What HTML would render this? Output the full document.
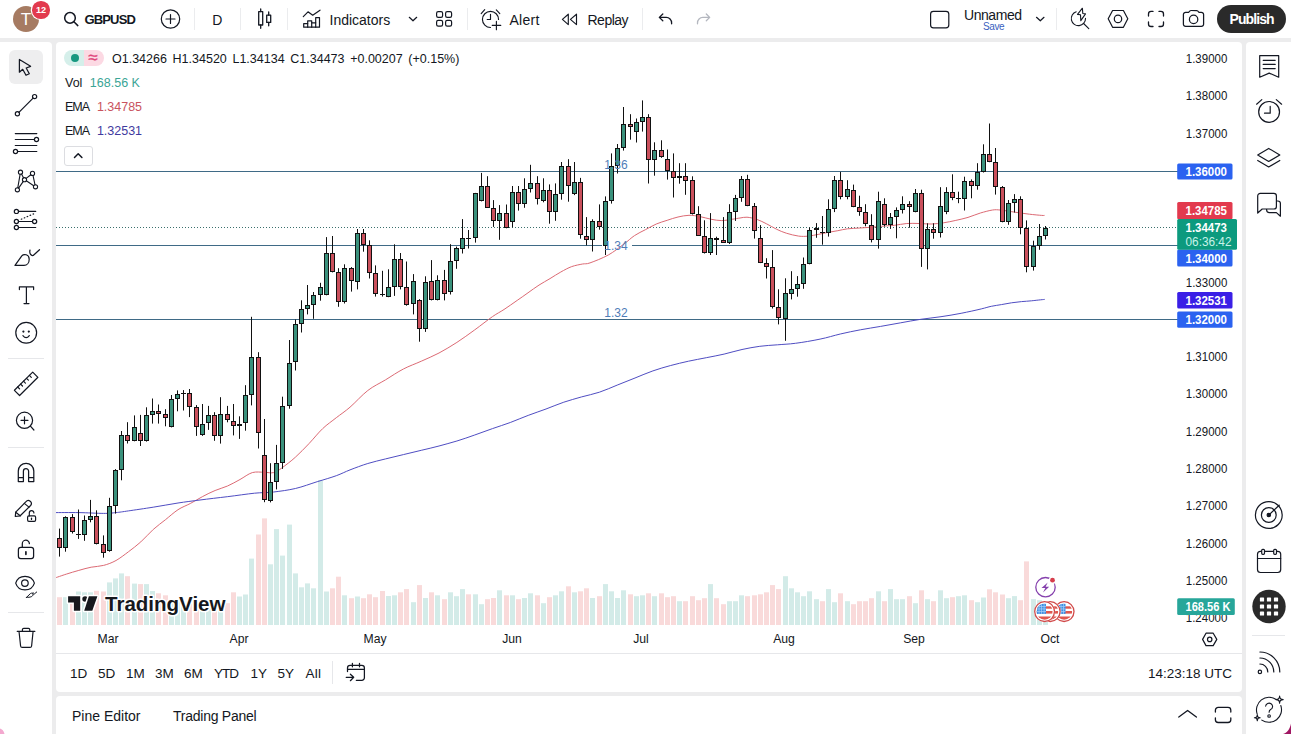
<!DOCTYPE html>
<html lang="en">
<head>
<meta charset="utf-8">
<title>GBPUSD chart</title>
<style>
*{box-sizing:border-box;margin:0;padding:0}
html,body{width:1291px;height:734px;overflow:hidden}
body{background:#ececed;font-family:"Liberation Sans",sans-serif;color:#131722;position:relative}
.panel{position:absolute;background:#fff}
#top{left:0;top:0;width:1291px;height:38px}
#left{left:0;top:42px;width:52px;height:692px;border-top-right-radius:4px}
#chart{left:56px;top:42px;width:1186px;height:650px;border-radius:4px}
#bottom{left:56px;top:696px;width:1186px;height:38px;border-radius:4px 4px 0 0}
#right{left:1246px;top:42px;width:45px;height:692px;border-top-left-radius:4px}
.t{position:absolute;white-space:nowrap;line-height:1}
#ov{position:absolute;left:0;top:0;width:1291px;height:734px;pointer-events:none}
svg text{font-family:"Liberation Sans",sans-serif}
.ic{fill:none;stroke:#131722;stroke-width:1.2;stroke-linecap:round;stroke-linejoin:round}
</style>
</head>
<body>
<div class="panel" id="top"></div>
<div class="panel" id="left"></div>
<div class="panel" id="chart"></div>
<div class="panel" id="bottom"></div>
<div class="panel" id="right"></div>
<!-- top toolbar -->
<div class="t" style="left:13px;top:6px;width:26px;height:26px;border-radius:50%;background:#a67b62;color:#fff;font-size:17px;text-align:center;line-height:27.4px">T</div>
<div class="t" style="left:32.3px;top:1.4px;width:17.4px;height:17.4px;border-radius:50%;box-shadow:0 0 0 1.2px #fff;background:#e23a4e;color:#fff;font-size:9.2px;font-weight:bold;text-align:center;line-height:18.6px;letter-spacing:-0.1px">12</div>
<div class="t" id="sym" style="left:84.5px;top:12.5px;font-size:13px;font-weight:bold;letter-spacing:-0.85px">GBPUSD</div>
<div class="t" id="tfD" style="left:212.3px;top:12.5px;font-size:14px">D</div>
<div class="t" id="ind" style="left:329.5px;top:12.5px;font-size:14px">Indicators</div>
<div class="t" id="alert" style="left:509.4px;top:12.5px;font-size:14px;letter-spacing:0.3px">Alert</div>
<div class="t" id="replay" style="left:587.5px;top:12.5px;font-size:14px;letter-spacing:-0.5px">Replay</div>
<div class="t" id="unnamed" style="left:964px;top:8px;font-size:14px;letter-spacing:-0.45px">Unnamed</div>
<div class="t" id="save" style="left:983px;top:22.3px;font-size:10px;letter-spacing:-0.4px;color:#3a5fc0">Save</div>
<div class="t" style="left:1217px;top:5px;width:69px;height:28px;border-radius:14px;background:#2a2a2a"></div>
<div class="t" id="publish" style="left:1229.5px;top:12px;font-size:14px;color:#fff;font-weight:bold;letter-spacing:-0.9px">Publish</div>
<!-- left toolbar selected -->
<div class="t" style="left:9px;top:50px;width:34px;height:34px;border-radius:6px;background:#eeeeef"></div>
<!-- legend -->
<div class="t" style="left:64px;top:49.5px;width:20px;height:16.5px;border-radius:8.25px 0 0 8.25px;background:#d5efea"></div>
<div class="t" style="left:84px;top:49.5px;width:19.5px;height:16.5px;border-radius:0 8.25px 8.25px 0;background:#fcd9e3"></div>
<div class="t" style="left:71.1px;top:53.7px;width:8px;height:8px;border-radius:50%;background:#169880"></div>
<div class="t" style="left:88.2px;top:49.1px;font-size:17px;color:#e0457b;-webkit-text-stroke:0.35px #e0457b">≈</div>
<div class="t" id="ohlc" style="left:112px;top:52.5px;font-size:12.5px;word-spacing:2.2px">O1.34266 H1.34520 L1.34134 C1.34473 +0.00207 (+0.15%)</div>
<div class="t" id="vol" style="left:65px;top:76.5px;font-size:12.5px">Vol <span style="color:#3aa596;margin-left:4px">168.56 K</span></div>
<div class="t" id="ema1" style="left:65px;top:100.5px;font-size:12.5px;letter-spacing:-1px">EMA <span style="color:#c9535e;margin-left:6px;letter-spacing:0">1.34785</span></div>
<div class="t" id="ema2" style="left:65px;top:124.5px;font-size:12.5px;letter-spacing:-1px">EMA <span style="color:#3f3a9e;margin-left:6px;letter-spacing:0">1.32531</span></div>
<div class="t" style="left:64px;top:145.5px;width:28.5px;height:20px;border:1px solid #dcdde1;border-radius:3px;background:#fff"></div>
<!-- bottom range bar -->
<div class="t" id="r1" style="left:70px;top:667px;font-size:13.5px">1D</div>
<div class="t" id="r2" style="left:98px;top:667px;font-size:13.5px">5D</div>
<div class="t" id="r3" style="left:126px;top:667px;font-size:13.5px">1M</div>
<div class="t" id="r4" style="left:155px;top:667px;font-size:13.5px">3M</div>
<div class="t" id="r5" style="left:184px;top:667px;font-size:13.5px">6M</div>
<div class="t" id="r6" style="left:214px;top:667px;font-size:13.5px;letter-spacing:-1px">YTD</div>
<div class="t" id="r7" style="left:250.5px;top:667px;font-size:13.5px">1Y</div>
<div class="t" id="r8" style="left:277.5px;top:667px;font-size:13.5px">5Y</div>
<div class="t" id="r9" style="left:305.5px;top:667px;font-size:13.5px;letter-spacing:0.3px">All</div>
<div class="t" id="clock" style="right:59px;top:667px;font-size:13.5px">14:23:18 UTC</div>
<div class="t" id="pine" style="left:72px;top:708.5px;font-size:14px">Pine Editor</div>
<div class="t" id="tpanel" style="left:173px;top:708.5px;font-size:14px;letter-spacing:-0.25px">Trading Panel</div>

<svg id="ov" width="1291" height="734" viewBox="0 0 1291 734">
<clipPath id="cc"><rect x="56" y="42" width="1186" height="611"/></clipPath><g clip-path="url(#cc)"><rect x="57" y="597.2" width="5" height="27.8" fill="#f9dada"/>
<rect x="63" y="597.2" width="5" height="27.8" fill="#d3ebe8"/>
<rect x="70" y="603.9" width="5" height="21.1" fill="#f9dada"/>
<rect x="76" y="591.5" width="5" height="33.5" fill="#d3ebe8"/>
<rect x="82" y="592.3" width="5" height="32.7" fill="#d3ebe8"/>
<rect x="88" y="592.3" width="5" height="32.7" fill="#d3ebe8"/>
<rect x="94" y="590.8" width="5" height="34.2" fill="#f9dada"/>
<rect x="101" y="591.5" width="5" height="33.5" fill="#f9dada"/>
<rect x="107" y="582.4" width="5" height="42.6" fill="#d3ebe8"/>
<rect x="113" y="578.4" width="5" height="46.6" fill="#d3ebe8"/>
<rect x="119" y="573.4" width="5" height="51.6" fill="#d3ebe8"/>
<rect x="125" y="576.2" width="5" height="48.8" fill="#f9dada"/>
<rect x="132" y="583.6" width="5" height="41.4" fill="#d3ebe8"/>
<rect x="138" y="584.1" width="5" height="40.9" fill="#f9dada"/>
<rect x="144" y="584.1" width="5" height="40.9" fill="#d3ebe8"/>
<rect x="150" y="591.0" width="5" height="34.0" fill="#d3ebe8"/>
<rect x="156" y="593.3" width="5" height="31.7" fill="#f9dada"/>
<rect x="163" y="595.3" width="5" height="29.7" fill="#f9dada"/>
<rect x="169" y="599.0" width="5" height="26.0" fill="#d3ebe8"/>
<rect x="175" y="601.5" width="5" height="23.5" fill="#d3ebe8"/>
<rect x="181" y="603.9" width="5" height="21.1" fill="#d3ebe8"/>
<rect x="187" y="603.9" width="5" height="21.1" fill="#f9dada"/>
<rect x="194" y="605.2" width="5" height="19.8" fill="#f9dada"/>
<rect x="200" y="603.9" width="5" height="21.1" fill="#d3ebe8"/>
<rect x="206" y="605.2" width="5" height="19.8" fill="#d3ebe8"/>
<rect x="212" y="606.4" width="5" height="18.6" fill="#f9dada"/>
<rect x="218" y="603.9" width="5" height="21.1" fill="#d3ebe8"/>
<rect x="225" y="603.2" width="5" height="21.8" fill="#f9dada"/>
<rect x="231" y="592.3" width="5" height="32.7" fill="#f9dada"/>
<rect x="237" y="596.5" width="5" height="28.5" fill="#d3ebe8"/>
<rect x="243" y="594.5" width="5" height="30.5" fill="#d3ebe8"/>
<rect x="249" y="558.6" width="5" height="66.4" fill="#d3ebe8"/>
<rect x="256" y="534.5" width="5" height="90.5" fill="#f9dada"/>
<rect x="262" y="518.4" width="5" height="106.6" fill="#f9dada"/>
<rect x="268" y="564.3" width="5" height="60.7" fill="#d3ebe8"/>
<rect x="274" y="529.1" width="5" height="95.9" fill="#d3ebe8"/>
<rect x="280" y="555.6" width="5" height="69.4" fill="#d3ebe8"/>
<rect x="287" y="524.6" width="5" height="100.4" fill="#d3ebe8"/>
<rect x="293" y="573.4" width="5" height="51.6" fill="#d3ebe8"/>
<rect x="299" y="587.3" width="5" height="37.7" fill="#d3ebe8"/>
<rect x="305" y="583.4" width="5" height="41.6" fill="#d3ebe8"/>
<rect x="311" y="588.3" width="5" height="36.7" fill="#d3ebe8"/>
<rect x="318" y="480.0" width="5" height="145.0" fill="#d3ebe8"/>
<rect x="324" y="591.5" width="5" height="33.5" fill="#d3ebe8"/>
<rect x="330" y="588.3" width="5" height="36.7" fill="#f9dada"/>
<rect x="336" y="576.7" width="5" height="48.3" fill="#f9dada"/>
<rect x="342" y="595.3" width="5" height="29.7" fill="#d3ebe8"/>
<rect x="349" y="598.2" width="5" height="26.8" fill="#f9dada"/>
<rect x="355" y="596.5" width="5" height="28.5" fill="#d3ebe8"/>
<rect x="361" y="598.2" width="5" height="26.8" fill="#f9dada"/>
<rect x="367" y="594.3" width="5" height="30.7" fill="#f9dada"/>
<rect x="373" y="597.2" width="5" height="27.8" fill="#f9dada"/>
<rect x="380" y="591.0" width="5" height="34.0" fill="#f9dada"/>
<rect x="386" y="596.0" width="5" height="29.0" fill="#d3ebe8"/>
<rect x="392" y="595.3" width="5" height="29.7" fill="#d3ebe8"/>
<rect x="398" y="592.3" width="5" height="32.7" fill="#f9dada"/>
<rect x="404" y="589.1" width="5" height="35.9" fill="#f9dada"/>
<rect x="411" y="602.2" width="5" height="22.8" fill="#d3ebe8"/>
<rect x="417" y="585.1" width="5" height="39.9" fill="#f9dada"/>
<rect x="423" y="598.0" width="5" height="27.0" fill="#d3ebe8"/>
<rect x="429" y="592.3" width="5" height="32.7" fill="#f9dada"/>
<rect x="435" y="595.3" width="5" height="29.7" fill="#d3ebe8"/>
<rect x="442" y="599.2" width="5" height="25.8" fill="#f9dada"/>
<rect x="448" y="592.3" width="5" height="32.7" fill="#d3ebe8"/>
<rect x="454" y="596.2" width="5" height="28.8" fill="#d3ebe8"/>
<rect x="460" y="589.1" width="5" height="35.9" fill="#d3ebe8"/>
<rect x="466" y="594.3" width="5" height="30.7" fill="#f9dada"/>
<rect x="473" y="594.3" width="5" height="30.7" fill="#d3ebe8"/>
<rect x="479" y="604.2" width="5" height="20.8" fill="#d3ebe8"/>
<rect x="485" y="599.2" width="5" height="25.8" fill="#f9dada"/>
<rect x="491" y="598.0" width="5" height="27.0" fill="#f9dada"/>
<rect x="497" y="590.3" width="5" height="34.7" fill="#d3ebe8"/>
<rect x="504" y="595.3" width="5" height="29.7" fill="#f9dada"/>
<rect x="510" y="595.3" width="5" height="29.7" fill="#d3ebe8"/>
<rect x="516" y="599.2" width="5" height="25.8" fill="#f9dada"/>
<rect x="522" y="598.0" width="5" height="27.0" fill="#d3ebe8"/>
<rect x="528" y="593.3" width="5" height="31.7" fill="#d3ebe8"/>
<rect x="535" y="595.3" width="5" height="29.7" fill="#f9dada"/>
<rect x="541" y="603.2" width="5" height="21.8" fill="#d3ebe8"/>
<rect x="547" y="597.2" width="5" height="27.8" fill="#f9dada"/>
<rect x="553" y="595.3" width="5" height="29.7" fill="#d3ebe8"/>
<rect x="559" y="591.3" width="5" height="33.7" fill="#d3ebe8"/>
<rect x="566" y="586.3" width="5" height="38.7" fill="#f9dada"/>
<rect x="572" y="592.3" width="5" height="32.7" fill="#d3ebe8"/>
<rect x="578" y="591.3" width="5" height="33.7" fill="#f9dada"/>
<rect x="584" y="588.3" width="5" height="36.7" fill="#f9dada"/>
<rect x="590" y="598.0" width="5" height="27.0" fill="#d3ebe8"/>
<rect x="597" y="596.2" width="5" height="28.8" fill="#f9dada"/>
<rect x="603" y="584.1" width="5" height="40.9" fill="#d3ebe8"/>
<rect x="609" y="591.3" width="5" height="33.7" fill="#d3ebe8"/>
<rect x="615" y="598.0" width="5" height="27.0" fill="#d3ebe8"/>
<rect x="621" y="590.3" width="5" height="34.7" fill="#d3ebe8"/>
<rect x="628" y="594.3" width="5" height="30.7" fill="#f9dada"/>
<rect x="634" y="596.2" width="5" height="28.8" fill="#d3ebe8"/>
<rect x="640" y="595.3" width="5" height="29.7" fill="#d3ebe8"/>
<rect x="646" y="593.3" width="5" height="31.7" fill="#f9dada"/>
<rect x="652" y="596.2" width="5" height="28.8" fill="#d3ebe8"/>
<rect x="659" y="593.3" width="5" height="31.7" fill="#f9dada"/>
<rect x="665" y="597.2" width="5" height="27.8" fill="#f9dada"/>
<rect x="671" y="596.2" width="5" height="28.8" fill="#f9dada"/>
<rect x="677" y="601.2" width="5" height="23.8" fill="#d3ebe8"/>
<rect x="683" y="601.2" width="5" height="23.8" fill="#f9dada"/>
<rect x="690" y="596.2" width="5" height="28.8" fill="#f9dada"/>
<rect x="696" y="600.2" width="5" height="24.8" fill="#f9dada"/>
<rect x="702" y="598.2" width="5" height="26.8" fill="#f9dada"/>
<rect x="708" y="584.1" width="5" height="40.9" fill="#d3ebe8"/>
<rect x="714" y="598.2" width="5" height="26.8" fill="#f9dada"/>
<rect x="721" y="604.2" width="5" height="20.8" fill="#f9dada"/>
<rect x="727" y="601.2" width="5" height="23.8" fill="#d3ebe8"/>
<rect x="733" y="601.2" width="5" height="23.8" fill="#d3ebe8"/>
<rect x="739" y="595.3" width="5" height="29.7" fill="#d3ebe8"/>
<rect x="745" y="596.2" width="5" height="28.8" fill="#f9dada"/>
<rect x="752" y="595.3" width="5" height="29.7" fill="#f9dada"/>
<rect x="758" y="594.3" width="5" height="30.7" fill="#f9dada"/>
<rect x="764" y="592.3" width="5" height="32.7" fill="#f9dada"/>
<rect x="770" y="585.1" width="5" height="39.9" fill="#f9dada"/>
<rect x="776" y="589.1" width="5" height="35.9" fill="#f9dada"/>
<rect x="783" y="576.2" width="5" height="48.8" fill="#d3ebe8"/>
<rect x="789" y="588.3" width="5" height="36.7" fill="#d3ebe8"/>
<rect x="795" y="592.3" width="5" height="32.7" fill="#d3ebe8"/>
<rect x="801" y="596.2" width="5" height="28.8" fill="#d3ebe8"/>
<rect x="807" y="591.3" width="5" height="33.7" fill="#d3ebe8"/>
<rect x="814" y="599.2" width="5" height="25.8" fill="#d3ebe8"/>
<rect x="820" y="601.2" width="5" height="23.8" fill="#f9dada"/>
<rect x="826" y="589.1" width="5" height="35.9" fill="#d3ebe8"/>
<rect x="832" y="602.2" width="5" height="22.8" fill="#d3ebe8"/>
<rect x="838" y="593.3" width="5" height="31.7" fill="#f9dada"/>
<rect x="845" y="601.2" width="5" height="23.8" fill="#d3ebe8"/>
<rect x="851" y="604.2" width="5" height="20.8" fill="#f9dada"/>
<rect x="857" y="601.2" width="5" height="23.8" fill="#f9dada"/>
<rect x="863" y="601.2" width="5" height="23.8" fill="#f9dada"/>
<rect x="869" y="598.2" width="5" height="26.8" fill="#f9dada"/>
<rect x="876" y="591.3" width="5" height="33.7" fill="#d3ebe8"/>
<rect x="882" y="601.2" width="5" height="23.8" fill="#f9dada"/>
<rect x="888" y="589.1" width="5" height="35.9" fill="#d3ebe8"/>
<rect x="894" y="599.2" width="5" height="25.8" fill="#d3ebe8"/>
<rect x="900" y="599.2" width="5" height="25.8" fill="#d3ebe8"/>
<rect x="907" y="596.2" width="5" height="28.8" fill="#f9dada"/>
<rect x="913" y="603.2" width="5" height="21.8" fill="#d3ebe8"/>
<rect x="919" y="590.3" width="5" height="34.7" fill="#f9dada"/>
<rect x="925" y="599.2" width="5" height="25.8" fill="#d3ebe8"/>
<rect x="931" y="601.2" width="5" height="23.8" fill="#f9dada"/>
<rect x="938" y="590.3" width="5" height="34.7" fill="#d3ebe8"/>
<rect x="944" y="598.2" width="5" height="26.8" fill="#d3ebe8"/>
<rect x="950" y="597.2" width="5" height="27.8" fill="#f9dada"/>
<rect x="956" y="596.2" width="5" height="28.8" fill="#d3ebe8"/>
<rect x="962" y="595.3" width="5" height="29.7" fill="#d3ebe8"/>
<rect x="969" y="600.2" width="5" height="24.8" fill="#f9dada"/>
<rect x="975" y="602.2" width="5" height="22.8" fill="#d3ebe8"/>
<rect x="981" y="597.5" width="5" height="27.5" fill="#d3ebe8"/>
<rect x="987" y="589.3" width="5" height="35.7" fill="#f9dada"/>
<rect x="993" y="592.3" width="5" height="32.7" fill="#f9dada"/>
<rect x="1000" y="594.5" width="5" height="30.5" fill="#f9dada"/>
<rect x="1006" y="598.2" width="5" height="26.8" fill="#d3ebe8"/>
<rect x="1012" y="596.1" width="5" height="28.9" fill="#d3ebe8"/>
<rect x="1018" y="600.2" width="5" height="24.8" fill="#f9dada"/>
<rect x="1024" y="561.4" width="5" height="63.6" fill="#f9dada"/>
<rect x="1031" y="599.1" width="5" height="25.9" fill="#d3ebe8"/>
<rect x="1037" y="600.2" width="5" height="24.8" fill="#d3ebe8"/>
<rect x="1043" y="602.2" width="5" height="22.8" fill="#d3ebe8"/>
<path d="M56,171.5H1178M56,245.5H602M632,245.5H1178M56,319.5H1178" stroke="#3f6a86" stroke-width="1" fill="none"/>
<path d="M56,227.5H1178" stroke="#3a6f6c" stroke-width="1" stroke-dasharray="1 2" fill="none"/>
<path d="M54.0,578.3C56.1,577.6 62.3,575.4 66.4,574.1C70.5,572.8 74.7,571.5 78.8,570.4C82.9,569.2 87.1,568.0 91.2,567.2C95.3,566.4 99.5,566.5 103.6,565.4C107.7,564.3 111.9,562.8 116.0,560.5C120.1,558.2 124.3,554.9 128.4,551.8C132.5,548.7 136.7,545.6 140.8,541.9C144.9,538.2 149.1,533.2 153.2,529.5C157.3,525.8 161.5,522.9 165.6,519.6C169.7,516.3 173.9,512.4 178.0,509.7C182.1,507.0 186.2,505.7 190.3,503.5C194.4,501.3 198.6,498.7 202.7,496.5C206.8,494.3 211.0,492.2 215.1,490.5C219.2,488.8 223.3,487.8 227.5,486.0C231.7,484.2 235.9,481.7 240.0,479.5C244.1,477.3 248.2,473.8 252.3,472.6C256.4,471.4 260.8,472.3 264.3,472.3C267.9,472.3 270.7,473.3 273.6,472.6C276.5,471.9 278.2,470.6 281.8,468.0C285.4,465.4 290.9,461.3 295.4,457.2C299.9,453.1 304.4,448.4 309.0,443.6C313.6,438.8 318.1,432.9 322.7,428.6C327.2,424.3 331.8,421.3 336.3,417.7C340.9,414.1 344.8,411.7 350.0,407.2C355.2,402.7 361.9,395.1 367.8,390.5C373.7,385.9 379.7,383.4 385.6,379.8C391.5,376.2 397.4,372.1 403.4,369.0C409.3,365.9 415.4,363.9 421.3,361.2C427.2,358.5 433.1,356.1 439.0,353.0C444.9,349.9 450.9,346.2 456.9,342.4C462.8,338.5 468.8,334.2 474.7,329.9C480.6,325.6 487.6,320.0 492.5,316.6C497.4,313.2 499.9,312.2 504.0,309.5C508.1,306.8 513.2,303.2 517.2,300.4C521.2,297.6 524.4,295.4 528.0,292.8C531.6,290.2 535.3,287.5 539.0,285.1C542.7,282.7 546.4,280.8 550.0,278.6C553.6,276.4 557.2,274.0 560.8,272.0C564.4,270.0 568.1,267.9 571.7,266.6C575.3,265.3 579.6,264.6 582.6,264.0C585.6,263.4 585.7,264.4 590.0,262.9C594.3,261.4 602.7,258.1 608.3,255.0C613.9,251.9 619.2,247.5 623.6,244.3C628.0,241.1 630.9,238.0 634.5,235.6C638.1,233.2 641.8,231.6 645.4,229.7C649.0,227.8 652.7,225.6 656.3,224.0C659.9,222.4 663.6,221.5 667.2,220.3C670.8,219.1 674.4,217.8 678.0,217.0C681.6,216.2 685.3,215.4 689.0,215.3C692.7,215.2 696.4,215.9 700.0,216.6C703.6,217.2 707.2,218.5 710.8,219.2C714.4,219.9 718.1,220.6 721.7,220.6C725.3,220.6 729.6,219.6 732.6,219.2C735.6,218.8 737.6,218.3 740.0,218.0C742.4,217.7 744.2,217.0 747.0,217.2C749.8,217.4 753.6,218.3 756.9,219.4C760.2,220.5 763.4,222.3 766.7,223.9C770.0,225.5 773.2,227.6 776.5,229.2C779.8,230.8 782.6,232.0 786.3,233.2C790.0,234.3 794.9,235.6 798.6,236.1C802.3,236.6 805.1,236.4 808.4,236.1C811.7,235.8 814.9,235.0 818.2,234.4C821.5,233.8 824.7,233.0 828.0,232.4C831.3,231.8 834.5,231.3 837.8,230.7C841.1,230.1 843.9,229.2 847.6,228.8C851.3,228.4 855.8,228.3 859.9,228.0C864.0,227.7 867.9,227.5 872.0,227.2C876.1,226.9 881.0,226.3 884.7,226.0C888.5,225.7 890.8,225.7 894.5,225.3C898.2,224.9 902.7,223.8 906.8,223.5C910.9,223.2 914.9,223.4 919.0,223.5C923.1,223.6 927.2,224.1 931.3,224.0C935.4,223.9 939.5,223.4 943.6,222.8C947.7,222.2 951.7,221.3 955.8,220.4C959.9,219.5 963.9,218.6 968.0,217.4C972.1,216.2 976.3,214.2 980.4,213.0C984.5,211.8 989.3,210.5 992.6,210.0C995.9,209.5 997.5,209.8 1000.0,210.0C1002.5,210.2 1004.5,210.6 1007.3,211.0C1010.1,211.4 1013.3,212.0 1017.0,212.5C1020.7,213.0 1025.3,213.7 1029.4,214.2C1033.5,214.7 1039.2,215.2 1041.7,215.4C1044.2,215.6 1044.1,215.4 1044.6,215.4" stroke="#dc6a74" stroke-width="1" fill="none" stroke-linejoin="round"/>
<path d="M54.0,512.6C58.1,512.6 70.5,512.5 78.8,512.6C87.1,512.7 97.4,513.4 103.6,513.4C109.8,513.4 111.9,513.0 116.0,512.6C120.1,512.2 122.2,511.8 128.4,510.9C134.6,510.0 144.9,508.5 153.2,507.2C161.5,505.9 170.2,504.2 178.0,503.0C185.8,501.8 191.8,501.1 200.0,500.0C208.2,498.9 218.2,497.8 227.3,496.7C236.4,495.6 246.8,494.0 254.5,493.2C262.2,492.4 266.8,492.8 273.6,492.0C280.4,491.2 288.1,490.2 295.4,488.5C302.7,486.8 310.4,483.8 317.2,481.7C324.0,479.6 330.8,477.7 336.3,475.7C341.8,473.7 344.8,471.9 350.0,469.9C355.2,467.9 361.9,465.3 367.8,463.5C373.7,461.7 379.7,460.4 385.6,458.9C391.5,457.4 397.4,456.0 403.4,454.6C409.3,453.2 415.4,451.7 421.3,450.3C427.2,448.9 433.1,447.6 439.0,446.0C444.9,444.4 450.9,442.8 456.9,441.0C462.8,439.2 468.8,437.1 474.7,435.0C480.6,432.9 486.6,430.7 492.5,428.6C498.4,426.5 504.4,424.7 510.3,422.5C516.2,420.3 522.2,417.6 528.2,415.4C534.2,413.1 540.1,411.2 546.0,409.0C551.9,406.8 557.9,404.2 563.8,402.2C569.7,400.2 575.7,398.6 581.6,396.9C587.5,395.2 593.5,394.2 599.4,392.2C605.3,390.2 611.3,387.5 617.2,385.1C623.1,382.7 629.0,380.4 635.0,378.0C641.0,375.6 646.9,373.0 652.9,370.9C658.9,368.8 664.8,367.1 670.7,365.5C676.6,363.9 682.6,362.5 688.5,361.2C694.4,359.9 700.4,358.9 706.3,357.7C712.2,356.5 718.1,355.5 724.1,354.1C730.1,352.7 736.0,350.8 742.0,349.5C748.0,348.2 753.9,347.1 759.8,346.3C765.7,345.5 771.7,345.3 777.6,344.8C783.5,344.3 788.3,344.2 795.4,343.3C802.5,342.4 812.6,340.7 820.1,339.1C827.6,337.6 833.6,335.6 840.3,334.0C847.0,332.4 853.7,331.1 860.4,329.8C867.1,328.5 873.9,327.6 880.6,326.4C887.3,325.2 894.0,324.0 900.7,322.8C907.4,321.6 914.1,320.3 920.8,319.3C927.5,318.3 934.3,317.7 941.0,316.7C947.7,315.7 954.4,314.6 961.1,313.3C967.8,312.0 976.3,310.1 981.3,308.9C986.3,307.7 987.9,307.0 991.3,306.3C994.6,305.6 998.0,305.2 1001.4,304.6C1004.8,304.0 1008.1,303.3 1011.5,302.8C1014.9,302.3 1018.2,301.9 1021.6,301.6C1025.0,301.3 1027.8,301.2 1031.6,300.8C1035.4,300.4 1042.5,299.6 1044.7,299.4" stroke="#4f4dc2" stroke-width="1" fill="none" stroke-linejoin="round"/>
<path d="M59.5,528.6V556.6M65.5,516.3V551.7M72.5,514.1V533.5M78.5,509.5V538.9M84.5,515.5V540.8M90.5,499.9V522.3M96.5,510.3V544.4M103.5,535.4V557.7M109.5,497.8V551.7M115.5,469.1V513.6M121.5,431.0V480.3M127.5,422.2V443.5M134.5,415.4V441.3M140.5,414.9V446.0M146.5,407.3V441.6M152.5,398.5V423.6M158.5,404.5V423.6M165.5,409.2V426.3M171.5,395.0V427.4M177.5,390.4V411.3M183.5,390.1V410.5M189.5,389.0V417.1M196.5,405.1V435.9M202.5,404.0V435.9M208.5,405.9V429.9M214.5,412.2V440.8M220.5,397.2V443.6M227.5,405.9V422.3M233.5,404.0V435.4M239.5,416.3V438.9M245.5,385.2V430.7M251.5,316.8V405.4M258.5,352.2V448.5M264.5,419.0V502.2M270.5,463.2V502.4M276.5,444.9V489.4M282.5,396.7V468.9M289.5,340.0V408.7M295.5,319.5V370.5M301.5,300.3V332.5M307.5,285.0V314.4M313.5,292.0V318.8M320.5,282.8V300.7M326.5,237.1V295.3M332.5,236.0V272.4M338.5,268.2V306.8M344.5,264.3V303.5M351.5,267.1V291.6M357.5,229.0V289.4M363.5,229.0V251.7M369.5,240.3V278.5M375.5,265.4V296.6M382.5,270.8V296.6M388.5,269.3V297.2M394.5,244.3V295.9M400.5,253.0V289.4M406.5,261.5V305.7M413.5,274.1V314.4M419.5,299.2V341.7M425.5,276.3V331.9M431.5,260.1V300.4M437.5,275.3V300.4M444.5,269.9V300.4M450.5,244.2V294.5M456.5,246.6V268.8M462.5,219.1V253.5M468.5,230.0V248.5M475.5,192.9V242.6M481.5,172.9V201.4M487.5,176.2V207.5M493.5,200.1V226.9M499.5,205.1V239.8M506.5,204.5V228.3M512.5,186.0V227.4M518.5,186.0V210.6M524.5,178.3V207.8M530.5,164.8V192.5M537.5,176.2V204.5M543.5,178.3V202.3M549.5,184.4V223.7M555.5,183.4V220.8M561.5,162.0V199.7M568.5,159.2V201.7M574.5,162.0V195.1M580.5,177.9V238.7M586.5,217.1V245.4M592.5,219.3V251.5M599.5,204.4V229.7M605.5,196.4V255.0M611.5,153.4V203.6M617.5,144.0V173.5M623.5,107.0V150.6M630.5,114.2V139.7M636.5,118.5V142.5M642.5,100.4V131.6M648.5,114.2V183.5M654.5,142.3V175.7M661.5,140.3V157.8M667.5,149.5V179.6M673.5,153.4V197.5M679.5,163.2V183.7M685.5,163.2V194.8M692.5,176.3V214.5M698.5,206.2V235.6M704.5,220.3V253.5M710.5,213.1V255.0M716.5,236.7V255.0M723.5,217.1V242.6M729.5,204.2V244.0M735.5,194.9V220.9M741.5,176.0V201.8M747.5,174.8V206.2M754.5,203.0V238.6M760.5,225.1V263.1M766.5,258.2V278.5M772.5,250.1V308.5M778.5,289.3V324.4M785.5,278.3V340.8M791.5,271.2V299.4M797.5,276.1V296.7M803.5,257.5V288.8M809.5,227.5V264.3M816.5,223.1V237.8M822.5,216.0V244.7M828.5,199.3V236.6M834.5,176.0V212.1M840.5,171.9V199.3M847.5,180.2V199.3M853.5,184.6V207.2M859.5,195.7V215.8M865.5,204.2V226.3M871.5,214.2V242.4M878.5,191.7V248.6M884.5,198.3V226.5M890.5,213.0V228.9M896.5,207.4V238.3M902.5,196.3V213.5M909.5,201.2V227.7M915.5,189.0V212.3M921.5,189.7V266.9M927.5,223.3V269.4M933.5,223.3V238.7M940.5,187.2V237.5M946.5,187.2V214.2M952.5,174.3V200.2M958.5,191.7V203.2M964.5,176.7V210.5M971.5,179.4V198.3M977.5,163.2V189.7M983.5,144.3V172.5M989.5,123.5V162.2M995.5,148.0V194.6M1002.5,186.0V222.3M1008.5,200.0V224.8M1014.5,194.1V212.5M1020.5,196.3V234.3M1026.5,220.4V272.3M1033.5,240.7V270.6M1039.5,224.0V249.8M1045.5,226.0V239.5" stroke="#111" stroke-width="1" fill="none"/>
<rect x="57.5" y="538.5" width="4" height="9" fill="#ca505c" stroke="#111" stroke-width="1"/>
<rect x="63.5" y="517.5" width="4" height="30" fill="#3a917c" stroke="#111" stroke-width="1"/>
<rect x="70.5" y="517.5" width="4" height="14" fill="#ca505c" stroke="#111" stroke-width="1"/>
<rect x="76" y="534" width="5" height="1" fill="#111"/>
<rect x="82.5" y="520.5" width="4" height="14" fill="#3a917c" stroke="#111" stroke-width="1"/>
<rect x="88.5" y="516.5" width="4" height="3" fill="#3a917c" stroke="#111" stroke-width="1"/>
<rect x="94.5" y="516.5" width="4" height="27" fill="#ca505c" stroke="#111" stroke-width="1"/>
<rect x="101.5" y="544.5" width="4" height="8" fill="#ca505c" stroke="#111" stroke-width="1"/>
<rect x="107.5" y="506.5" width="4" height="44" fill="#3a917c" stroke="#111" stroke-width="1"/>
<rect x="113.5" y="470.5" width="4" height="35" fill="#3a917c" stroke="#111" stroke-width="1"/>
<rect x="119.5" y="435.5" width="4" height="34" fill="#3a917c" stroke="#111" stroke-width="1"/>
<rect x="125.5" y="435.5" width="4" height="5" fill="#ca505c" stroke="#111" stroke-width="1"/>
<rect x="132.5" y="427.5" width="4" height="13" fill="#3a917c" stroke="#111" stroke-width="1"/>
<rect x="138.5" y="433.5" width="4" height="7" fill="#ca505c" stroke="#111" stroke-width="1"/>
<rect x="144.5" y="415.5" width="4" height="25" fill="#3a917c" stroke="#111" stroke-width="1"/>
<rect x="150.5" y="411.5" width="4" height="3" fill="#3a917c" stroke="#111" stroke-width="1"/>
<rect x="156.5" y="411.5" width="4" height="2" fill="#ca505c" stroke="#111" stroke-width="1"/>
<rect x="163.5" y="414.5" width="4" height="3" fill="#ca505c" stroke="#111" stroke-width="1"/>
<rect x="169.5" y="399.5" width="4" height="27" fill="#3a917c" stroke="#111" stroke-width="1"/>
<rect x="175.5" y="394.5" width="4" height="4" fill="#3a917c" stroke="#111" stroke-width="1"/>
<rect x="181" y="393" width="5" height="1" fill="#111"/>
<rect x="187.5" y="393.5" width="4" height="13" fill="#ca505c" stroke="#111" stroke-width="1"/>
<rect x="194.5" y="407.5" width="4" height="19" fill="#ca505c" stroke="#111" stroke-width="1"/>
<rect x="200.5" y="424.5" width="4" height="10" fill="#3a917c" stroke="#111" stroke-width="1"/>
<rect x="206.5" y="415.5" width="4" height="7" fill="#3a917c" stroke="#111" stroke-width="1"/>
<rect x="212.5" y="415.5" width="4" height="20" fill="#ca505c" stroke="#111" stroke-width="1"/>
<rect x="218.5" y="414.5" width="4" height="21" fill="#3a917c" stroke="#111" stroke-width="1"/>
<rect x="225.5" y="414.5" width="4" height="5" fill="#ca505c" stroke="#111" stroke-width="1"/>
<rect x="231.5" y="421.5" width="4" height="4" fill="#ca505c" stroke="#111" stroke-width="1"/>
<rect x="237" y="424" width="5" height="2" fill="#111"/>
<rect x="243.5" y="395.5" width="4" height="27" fill="#3a917c" stroke="#111" stroke-width="1"/>
<rect x="249.5" y="357.5" width="4" height="37" fill="#3a917c" stroke="#111" stroke-width="1"/>
<rect x="256.5" y="357.5" width="4" height="75" fill="#ca505c" stroke="#111" stroke-width="1"/>
<rect x="262.5" y="455.5" width="4" height="44" fill="#ca505c" stroke="#111" stroke-width="1"/>
<rect x="268.5" y="482.5" width="4" height="18" fill="#3a917c" stroke="#111" stroke-width="1"/>
<rect x="274.5" y="463.5" width="4" height="18" fill="#3a917c" stroke="#111" stroke-width="1"/>
<rect x="280.5" y="406.5" width="4" height="56" fill="#3a917c" stroke="#111" stroke-width="1"/>
<rect x="287.5" y="363.5" width="4" height="42" fill="#3a917c" stroke="#111" stroke-width="1"/>
<rect x="293.5" y="324.5" width="4" height="37" fill="#3a917c" stroke="#111" stroke-width="1"/>
<rect x="299.5" y="309.5" width="4" height="14" fill="#3a917c" stroke="#111" stroke-width="1"/>
<rect x="305.5" y="305.5" width="4" height="3" fill="#3a917c" stroke="#111" stroke-width="1"/>
<rect x="311.5" y="295.5" width="4" height="9" fill="#3a917c" stroke="#111" stroke-width="1"/>
<rect x="318.5" y="287.5" width="4" height="7" fill="#3a917c" stroke="#111" stroke-width="1"/>
<rect x="324.5" y="253.5" width="4" height="41" fill="#3a917c" stroke="#111" stroke-width="1"/>
<rect x="330.5" y="253.5" width="4" height="18" fill="#ca505c" stroke="#111" stroke-width="1"/>
<rect x="336.5" y="272.5" width="4" height="29" fill="#ca505c" stroke="#111" stroke-width="1"/>
<rect x="342.5" y="268.5" width="4" height="33" fill="#3a917c" stroke="#111" stroke-width="1"/>
<rect x="349.5" y="268.5" width="4" height="12" fill="#ca505c" stroke="#111" stroke-width="1"/>
<rect x="355.5" y="233.5" width="4" height="48" fill="#3a917c" stroke="#111" stroke-width="1"/>
<rect x="361.5" y="233.5" width="4" height="11" fill="#ca505c" stroke="#111" stroke-width="1"/>
<rect x="367.5" y="245.5" width="4" height="27" fill="#ca505c" stroke="#111" stroke-width="1"/>
<rect x="373.5" y="273.5" width="4" height="20" fill="#ca505c" stroke="#111" stroke-width="1"/>
<rect x="380" y="294" width="5" height="1" fill="#111"/>
<rect x="386.5" y="287.5" width="4" height="9" fill="#3a917c" stroke="#111" stroke-width="1"/>
<rect x="392.5" y="259.5" width="4" height="27" fill="#3a917c" stroke="#111" stroke-width="1"/>
<rect x="398.5" y="259.5" width="4" height="27" fill="#ca505c" stroke="#111" stroke-width="1"/>
<rect x="404.5" y="287.5" width="4" height="17" fill="#ca505c" stroke="#111" stroke-width="1"/>
<rect x="411.5" y="281.5" width="4" height="22" fill="#3a917c" stroke="#111" stroke-width="1"/>
<rect x="417.5" y="300.5" width="4" height="28" fill="#ca505c" stroke="#111" stroke-width="1"/>
<rect x="423.5" y="282.5" width="4" height="46" fill="#3a917c" stroke="#111" stroke-width="1"/>
<rect x="429.5" y="281.5" width="4" height="18" fill="#ca505c" stroke="#111" stroke-width="1"/>
<rect x="435.5" y="280.5" width="4" height="19" fill="#3a917c" stroke="#111" stroke-width="1"/>
<rect x="442.5" y="280.5" width="4" height="13" fill="#ca505c" stroke="#111" stroke-width="1"/>
<rect x="448.5" y="261.5" width="4" height="30" fill="#3a917c" stroke="#111" stroke-width="1"/>
<rect x="454.5" y="248.5" width="4" height="12" fill="#3a917c" stroke="#111" stroke-width="1"/>
<rect x="460.5" y="238.5" width="4" height="10" fill="#3a917c" stroke="#111" stroke-width="1"/>
<rect x="466" y="238" width="5" height="1" fill="#111"/>
<rect x="473.5" y="193.5" width="4" height="44" fill="#3a917c" stroke="#111" stroke-width="1"/>
<rect x="479.5" y="186.5" width="4" height="14" fill="#3a917c" stroke="#111" stroke-width="1"/>
<rect x="485.5" y="186.5" width="4" height="21" fill="#ca505c" stroke="#111" stroke-width="1"/>
<rect x="491.5" y="208.5" width="4" height="12" fill="#ca505c" stroke="#111" stroke-width="1"/>
<rect x="497.5" y="213.5" width="4" height="7" fill="#3a917c" stroke="#111" stroke-width="1"/>
<rect x="504.5" y="213.5" width="4" height="14" fill="#ca505c" stroke="#111" stroke-width="1"/>
<rect x="510.5" y="192.5" width="4" height="29" fill="#3a917c" stroke="#111" stroke-width="1"/>
<rect x="516.5" y="192.5" width="4" height="11" fill="#ca505c" stroke="#111" stroke-width="1"/>
<rect x="522.5" y="189.5" width="4" height="14" fill="#3a917c" stroke="#111" stroke-width="1"/>
<rect x="528.5" y="183.5" width="4" height="5" fill="#3a917c" stroke="#111" stroke-width="1"/>
<rect x="535.5" y="183.5" width="4" height="15" fill="#ca505c" stroke="#111" stroke-width="1"/>
<rect x="541.5" y="190.5" width="4" height="10" fill="#3a917c" stroke="#111" stroke-width="1"/>
<rect x="547.5" y="190.5" width="4" height="21" fill="#ca505c" stroke="#111" stroke-width="1"/>
<rect x="553.5" y="194.5" width="4" height="17" fill="#3a917c" stroke="#111" stroke-width="1"/>
<rect x="559.5" y="166.5" width="4" height="27" fill="#3a917c" stroke="#111" stroke-width="1"/>
<rect x="566.5" y="166.5" width="4" height="19" fill="#ca505c" stroke="#111" stroke-width="1"/>
<rect x="572.5" y="182.5" width="4" height="11" fill="#3a917c" stroke="#111" stroke-width="1"/>
<rect x="578.5" y="182.5" width="4" height="52" fill="#ca505c" stroke="#111" stroke-width="1"/>
<rect x="584.5" y="236.5" width="4" height="3" fill="#ca505c" stroke="#111" stroke-width="1"/>
<rect x="590.5" y="221.5" width="4" height="18" fill="#3a917c" stroke="#111" stroke-width="1"/>
<rect x="597.5" y="221.5" width="4" height="5" fill="#ca505c" stroke="#111" stroke-width="1"/>
<rect x="603.5" y="201.5" width="4" height="44" fill="#3a917c" stroke="#111" stroke-width="1"/>
<rect x="609.5" y="166.5" width="4" height="34" fill="#3a917c" stroke="#111" stroke-width="1"/>
<rect x="615.5" y="148.5" width="4" height="17" fill="#3a917c" stroke="#111" stroke-width="1"/>
<rect x="621.5" y="124.5" width="4" height="23" fill="#3a917c" stroke="#111" stroke-width="1"/>
<rect x="628.5" y="124.5" width="4" height="2" fill="#ca505c" stroke="#111" stroke-width="1"/>
<rect x="634.5" y="122.5" width="4" height="9" fill="#3a917c" stroke="#111" stroke-width="1"/>
<rect x="640.5" y="117.5" width="4" height="4" fill="#3a917c" stroke="#111" stroke-width="1"/>
<rect x="646.5" y="117.5" width="4" height="42" fill="#ca505c" stroke="#111" stroke-width="1"/>
<rect x="652.5" y="150.5" width="4" height="9" fill="#3a917c" stroke="#111" stroke-width="1"/>
<rect x="659.5" y="150.5" width="4" height="6" fill="#ca505c" stroke="#111" stroke-width="1"/>
<rect x="665.5" y="159.5" width="4" height="11" fill="#ca505c" stroke="#111" stroke-width="1"/>
<rect x="671.5" y="171.5" width="4" height="6" fill="#ca505c" stroke="#111" stroke-width="1"/>
<rect x="677" y="176" width="5" height="2" fill="#111"/>
<rect x="683.5" y="176.5" width="4" height="4" fill="#ca505c" stroke="#111" stroke-width="1"/>
<rect x="690.5" y="180.5" width="4" height="33" fill="#ca505c" stroke="#111" stroke-width="1"/>
<rect x="696.5" y="214.5" width="4" height="21" fill="#ca505c" stroke="#111" stroke-width="1"/>
<rect x="702.5" y="236.5" width="4" height="16" fill="#ca505c" stroke="#111" stroke-width="1"/>
<rect x="708.5" y="238.5" width="4" height="14" fill="#3a917c" stroke="#111" stroke-width="1"/>
<rect x="714" y="238" width="5" height="2" fill="#111"/>
<rect x="721.5" y="240.5" width="4" height="2" fill="#ca505c" stroke="#111" stroke-width="1"/>
<rect x="727.5" y="212.5" width="4" height="30" fill="#3a917c" stroke="#111" stroke-width="1"/>
<rect x="733.5" y="198.5" width="4" height="13" fill="#3a917c" stroke="#111" stroke-width="1"/>
<rect x="739.5" y="179.5" width="4" height="18" fill="#3a917c" stroke="#111" stroke-width="1"/>
<rect x="745.5" y="179.5" width="4" height="26" fill="#ca505c" stroke="#111" stroke-width="1"/>
<rect x="752.5" y="206.5" width="4" height="24" fill="#ca505c" stroke="#111" stroke-width="1"/>
<rect x="758.5" y="238.5" width="4" height="24" fill="#ca505c" stroke="#111" stroke-width="1"/>
<rect x="764.5" y="263.5" width="4" height="3" fill="#ca505c" stroke="#111" stroke-width="1"/>
<rect x="770.5" y="267.5" width="4" height="39" fill="#ca505c" stroke="#111" stroke-width="1"/>
<rect x="776.5" y="307.5" width="4" height="10" fill="#ca505c" stroke="#111" stroke-width="1"/>
<rect x="783.5" y="293.5" width="4" height="25" fill="#3a917c" stroke="#111" stroke-width="1"/>
<rect x="789.5" y="289.5" width="4" height="4" fill="#3a917c" stroke="#111" stroke-width="1"/>
<rect x="795.5" y="284.5" width="4" height="4" fill="#3a917c" stroke="#111" stroke-width="1"/>
<rect x="801.5" y="264.5" width="4" height="19" fill="#3a917c" stroke="#111" stroke-width="1"/>
<rect x="807.5" y="230.5" width="4" height="33" fill="#3a917c" stroke="#111" stroke-width="1"/>
<rect x="814" y="228" width="5" height="2" fill="#111"/>
<rect x="820" y="232" width="5" height="1" fill="#111"/>
<rect x="826.5" y="209.5" width="4" height="23" fill="#3a917c" stroke="#111" stroke-width="1"/>
<rect x="832.5" y="180.5" width="4" height="28" fill="#3a917c" stroke="#111" stroke-width="1"/>
<rect x="838.5" y="180.5" width="4" height="16" fill="#ca505c" stroke="#111" stroke-width="1"/>
<rect x="845.5" y="189.5" width="4" height="7" fill="#3a917c" stroke="#111" stroke-width="1"/>
<rect x="851.5" y="190.5" width="4" height="16" fill="#ca505c" stroke="#111" stroke-width="1"/>
<rect x="857.5" y="207.5" width="4" height="4" fill="#ca505c" stroke="#111" stroke-width="1"/>
<rect x="863.5" y="212.5" width="4" height="11" fill="#ca505c" stroke="#111" stroke-width="1"/>
<rect x="869.5" y="225.5" width="4" height="14" fill="#ca505c" stroke="#111" stroke-width="1"/>
<rect x="876.5" y="201.5" width="4" height="38" fill="#3a917c" stroke="#111" stroke-width="1"/>
<rect x="882.5" y="204.5" width="4" height="20" fill="#ca505c" stroke="#111" stroke-width="1"/>
<rect x="888.5" y="217.5" width="4" height="7" fill="#3a917c" stroke="#111" stroke-width="1"/>
<rect x="894.5" y="210.5" width="4" height="6" fill="#3a917c" stroke="#111" stroke-width="1"/>
<rect x="900.5" y="204.5" width="4" height="5" fill="#3a917c" stroke="#111" stroke-width="1"/>
<rect x="907.5" y="204.5" width="4" height="2" fill="#ca505c" stroke="#111" stroke-width="1"/>
<rect x="913.5" y="193.5" width="4" height="18" fill="#3a917c" stroke="#111" stroke-width="1"/>
<rect x="919.5" y="193.5" width="4" height="55" fill="#ca505c" stroke="#111" stroke-width="1"/>
<rect x="925.5" y="229.5" width="4" height="19" fill="#3a917c" stroke="#111" stroke-width="1"/>
<rect x="931.5" y="229.5" width="4" height="3" fill="#ca505c" stroke="#111" stroke-width="1"/>
<rect x="938.5" y="206.5" width="4" height="26" fill="#3a917c" stroke="#111" stroke-width="1"/>
<rect x="944.5" y="192.5" width="4" height="19" fill="#3a917c" stroke="#111" stroke-width="1"/>
<rect x="950.5" y="192.5" width="4" height="5" fill="#ca505c" stroke="#111" stroke-width="1"/>
<rect x="956" y="198" width="5" height="1" fill="#111"/>
<rect x="962.5" y="181.5" width="4" height="17" fill="#3a917c" stroke="#111" stroke-width="1"/>
<rect x="969.5" y="181.5" width="4" height="4" fill="#ca505c" stroke="#111" stroke-width="1"/>
<rect x="975.5" y="172.5" width="4" height="13" fill="#3a917c" stroke="#111" stroke-width="1"/>
<rect x="981.5" y="154.5" width="4" height="17" fill="#3a917c" stroke="#111" stroke-width="1"/>
<rect x="987.5" y="154.5" width="4" height="7" fill="#ca505c" stroke="#111" stroke-width="1"/>
<rect x="993.5" y="162.5" width="4" height="24" fill="#ca505c" stroke="#111" stroke-width="1"/>
<rect x="1000.5" y="187.5" width="4" height="34" fill="#ca505c" stroke="#111" stroke-width="1"/>
<rect x="1006.5" y="203.5" width="4" height="18" fill="#3a917c" stroke="#111" stroke-width="1"/>
<rect x="1012.5" y="199.5" width="4" height="3" fill="#3a917c" stroke="#111" stroke-width="1"/>
<rect x="1018.5" y="199.5" width="4" height="28" fill="#ca505c" stroke="#111" stroke-width="1"/>
<rect x="1024.5" y="228.5" width="4" height="38" fill="#ca505c" stroke="#111" stroke-width="1"/>
<rect x="1031.5" y="246.5" width="4" height="20" fill="#3a917c" stroke="#111" stroke-width="1"/>
<rect x="1037.5" y="236.5" width="4" height="9" fill="#3a917c" stroke="#111" stroke-width="1"/>
<rect x="1043.5" y="228.5" width="4" height="7" fill="#3a917c" stroke="#111" stroke-width="1"/></g>
<text x="1185.8" y="62.9" font-size="12" fill="#131722" textLength="41.5" lengthAdjust="spacingAndGlyphs">1.39000</text>
<text x="1185.8" y="100.2" font-size="12" fill="#131722" textLength="41.5" lengthAdjust="spacingAndGlyphs">1.38000</text>
<text x="1185.8" y="137.5" font-size="12" fill="#131722" textLength="41.5" lengthAdjust="spacingAndGlyphs">1.37000</text>
<text x="1185.8" y="286.6" font-size="12" fill="#131722" textLength="41.5" lengthAdjust="spacingAndGlyphs">1.33000</text>
<text x="1185.8" y="361.1" font-size="12" fill="#131722" textLength="41.5" lengthAdjust="spacingAndGlyphs">1.31000</text>
<text x="1185.8" y="398.4" font-size="12" fill="#131722" textLength="41.5" lengthAdjust="spacingAndGlyphs">1.30000</text>
<text x="1185.8" y="435.7" font-size="12" fill="#131722" textLength="41.5" lengthAdjust="spacingAndGlyphs">1.29000</text>
<text x="1185.8" y="473.0" font-size="12" fill="#131722" textLength="41.5" lengthAdjust="spacingAndGlyphs">1.28000</text>
<text x="1185.8" y="510.3" font-size="12" fill="#131722" textLength="41.5" lengthAdjust="spacingAndGlyphs">1.27000</text>
<text x="1185.8" y="547.5" font-size="12" fill="#131722" textLength="41.5" lengthAdjust="spacingAndGlyphs">1.26000</text>
<text x="1185.8" y="584.8" font-size="12" fill="#131722" textLength="41.5" lengthAdjust="spacingAndGlyphs">1.25000</text>
<text x="1185.8" y="622.1" font-size="12" fill="#131722" textLength="41.5" lengthAdjust="spacingAndGlyphs">1.24000</text>
<rect x="1177.2" y="163.5" width="55.299999999999955" height="16.099999999999994" rx="1.5" fill="#2b62f0"/>
<text x="1185.5" y="175.8" font-size="12" font-weight="bold" fill="#fff" textLength="41.5" lengthAdjust="spacingAndGlyphs">1.36000</text>
<rect x="1177.2" y="202" width="55.299999999999955" height="17.30000000000001" rx="1.5" fill="#e23a4e"/>
<text x="1185.5" y="214.8" font-size="12" font-weight="bold" fill="#fff" textLength="41.5" lengthAdjust="spacingAndGlyphs">1.34785</text>
<rect x="1177.2" y="249.5" width="55.299999999999955" height="17.100000000000023" rx="1.5" fill="#2b62f0"/>
<text x="1185.5" y="262.8" font-size="12" font-weight="bold" fill="#fff" textLength="41.5" lengthAdjust="spacingAndGlyphs">1.34000</text>
<rect x="1177.2" y="219" width="59.799999999999955" height="30.80000000000001" rx="1.5" fill="#0c9a7e"/>
<text x="1185.5" y="232.2" font-size="12" font-weight="bold" fill="#fff" textLength="41.5" lengthAdjust="spacingAndGlyphs">1.34473</text>
<text x="1185.5" y="245.8" font-size="12" fill="#c8f2e8" textLength="46" lengthAdjust="spacingAndGlyphs">06:36:42</text>
<rect x="1177.2" y="292" width="55.299999999999955" height="16.5" rx="1.5" fill="#3a1fe6"/>
<text x="1185.5" y="304.5" font-size="12" font-weight="bold" fill="#fff" textLength="41.5" lengthAdjust="spacingAndGlyphs">1.32531</text>
<rect x="1177.2" y="311.5" width="55.299999999999955" height="16.19999999999999" rx="1.5" fill="#2b62f0"/>
<text x="1185.5" y="323.8" font-size="12" font-weight="bold" fill="#fff" textLength="41.5" lengthAdjust="spacingAndGlyphs">1.32000</text>
<rect x="1177.2" y="598.2" width="57.6" height="16.8" rx="1.5" fill="#27a69a"/>
<text x="1185.5" y="610.8" font-size="12" font-weight="bold" fill="#fff" textLength="45" lengthAdjust="spacingAndGlyphs">168.56 K</text>
<text x="616" y="168.5" font-size="12" fill="#4f7db8" text-anchor="middle">1.36</text>
<text x="616" y="249.5" font-size="12" fill="#4f7db8" text-anchor="middle">1.34</text>
<text x="616" y="317" font-size="12" fill="#4f7db8" text-anchor="middle">1.32</text>
<path d="M56,653.5H1242" stroke="#e6e7ea" stroke-width="1"/>
<text x="108" y="643" font-size="12.2" fill="#131722" text-anchor="middle">Mar</text>
<text x="239" y="643" font-size="12.2" fill="#131722" text-anchor="middle">Apr</text>
<text x="375" y="643" font-size="12.2" fill="#131722" text-anchor="middle">May</text>
<text x="512" y="643" font-size="12.2" fill="#131722" text-anchor="middle">Jun</text>
<text x="641" y="643" font-size="12.2" fill="#131722" text-anchor="middle">Jul</text>
<text x="784" y="643" font-size="12.2" fill="#131722" text-anchor="middle">Aug</text>
<text x="914" y="643" font-size="12.2" fill="#131722" text-anchor="middle">Sep</text>
<text x="1050" y="643" font-size="12.2" fill="#131722" text-anchor="middle">Oct</text>
<path d="M194.5,8V30" stroke="#ebecee" style="stroke-width:1"/>
<path d="M240.5,8V30" stroke="#ebecee" style="stroke-width:1"/>
<path d="M287.5,8V30" stroke="#ebecee" style="stroke-width:1"/>
<path d="M467.5,8V30" stroke="#ebecee" style="stroke-width:1"/>
<path d="M642.5,8V30" stroke="#ebecee" style="stroke-width:1"/>
<path d="M1056.5,8V30" stroke="#ebecee" style="stroke-width:1"/>
<g class="ic" style="stroke-width:1.5"><circle cx="70" cy="17.9" r="5.3"/><path d="M73.9,21.8L77.8,25.6"/></g>
<g class="ic"><circle cx="170.5" cy="19" r="9.2"/><path d="M166,19H175M170.5,14.5V23.5"/></g>
<g class="ic" style="stroke-width:1.3"><rect x="258.7" y="11.6" width="4" height="13.4"/><path d="M260.7,9V11.6M260.7,25V28.3"/><rect x="266.7" y="15.2" width="4" height="7.2"/><path d="M268.7,12V15.2M268.7,22.4V25.8"/></g>
<g class="ic" style="stroke-width:1.2"><path d="M303.3,16.6L308,11.8L312.7,15.2L320,10.2"/><path d="M303.7,27.2V23.6H307.7V20.8H311.7V22.8H315.7V17.6H319.5V27.2Z"/><path d="M307.7,23.6V27.2M311.7,22.8V27.2M315.7,22.8V27.2"/></g>
<path class="ic" d="M409.3,17.3L413,20.8L416.7,17.3"/>
<path class="ic" d="M1036.5,17.3L1040.3,20.8L1044,17.3"/>
<rect class="ic" x="436.6" y="11.6" width="6" height="5.8" rx="1.6"/>
<rect class="ic" x="445.6" y="11.6" width="6" height="5.8" rx="1.6"/>
<rect class="ic" x="436.6" y="20.3" width="6" height="5.8" rx="1.6"/>
<rect class="ic" x="445.6" y="20.3" width="6" height="5.8" rx="1.6"/>
<g class="ic" style="stroke-width:1.15"><path d="M498.55,19.45A8.05,8.05 0 1 0 490.5,27.5"/><path d="M490.5,14.2V19.45H487.2"/><path d="M481.2,13.6L484.7,9.7M496.3,9.9L499.8,13.6"/><path d="M492.2,25.3H500.8M496.4,21.4V29.7"/></g>
<g class="ic" style="stroke-width:1.15"><path d="M562.4,19.4L568.3,14.2V24.6Z"/><path d="M570.4,19.4L576.5,14.2V24.6Z"/></g>
<path class="ic" style="stroke-width:1.3" d="M662.8,14L659.3,17.4L662.8,20.8M659.6,17.4H666.3A5.3,5.6 0 0 1 671.6,23V23.8"/>
<path class="ic" style="stroke-width:1.3;stroke:#b4b7bf" d="M706.3,14L709.7,17.4L706.3,20.8M709.4,17.4H702.8A5.3,5.6 0 0 0 697.5,23V23.8"/>
<rect class="ic" x="930.6" y="11.3" width="18.2" height="16.6" rx="2.8"/>
<g class="ic" style="stroke-width:1.1"><path d="M1076.2,11.8A7.1,7.1 0 1 0 1085.5,18.4"/><path d="M1082.4,8.2L1077.5,14.4L1080.5,14.8L1080.8,20.6L1085.5,13.9L1082.8,13.5Z"/><path d="M1083.6,23.5L1088.8,28.7"/></g>
<g class="ic"><path d="M1108.2,18.8L1112.6,10.5H1123.4L1127.8,18.8L1123.4,27.3H1112.6Z"/><circle cx="1118" cy="18.9" r="3.7"/></g>
<path class="ic" style="stroke-width:1.3" d="M1148.5,16V14A2.6,2.6 0 0 1 1151.1,11.4H1153M1159,11.4H1160.9A2.6,2.6 0 0 1 1163.5,14V16M1163.5,22V23.9A2.6,2.6 0 0 1 1160.9,26.5H1159M1153,26.5H1151.1A2.6,2.6 0 0 1 1148.5,23.9V22"/>
<g class="ic" style="stroke-width:1.25"><path d="M1185.6,12.4H1188.6L1190,10.9A1.5,1.5 0 0 1 1191,10.5H1196.6A1.5,1.5 0 0 1 1197.6,10.9L1199,12.4H1201.4A2.2,2.2 0 0 1 1203.6,14.6V24.2A2.2,2.2 0 0 1 1201.4,26.4H1185.6A2.2,2.2 0 0 1 1183.4,24.2V14.6A2.2,2.2 0 0 1 1185.6,12.4Z"/><circle cx="1193.6" cy="19.4" r="4.2"/></g>
<path d="M8,358.5H44M8,447.5H44M8,612.5H44" stroke="#e6e7ea" style="stroke-width:1"/>
<path class="ic" style="stroke-width:1.25" d="M19.4,59.5V72.2L22.7,69.3L26,75.3L29.3,73.8L26.2,68L30.6,66.3Z"/>
<g class="ic"><circle cx="34.6" cy="96.6" r="2.1"/><circle cx="17.4" cy="113.8" r="2.1"/><path d="M33.1,98.1L18.9,112.3"/></g>
<g class="ic"><path d="M15.3,133.6H36.8M15.3,139.5H34.4M15.3,145.5H36.8M17.6,151.5H36.8"/><circle cx="36.5" cy="139.5" r="2.1"/><circle cx="15.5" cy="151.5" r="2.1"/></g>
<g class="ic" style="stroke-width:1.1"><path d="M17.8,187.7L20.1,174.3M21.5,174.1L23.5,177.8M23.3,181.4L18.6,188.1M26.1,178.4L30.9,174.7M33.0,175.4L35.0,184.8M33.7,185.7L26.3,180.8"/><circle cx="20.5" cy="172.2" r="2.1"/><circle cx="32.5" cy="173.4" r="2.1"/><circle cx="24.5" cy="179.7" r="2.1"/><circle cx="17.4" cy="189.8" r="2.1"/><circle cx="35.5" cy="186.8" r="2.1"/></g>
<g class="ic"><circle cx="16.4" cy="211.4" r="2.1"/><path d="M18.5,211.4H35.7"/><circle cx="16.4" cy="221.5" r="2.1"/><path d="M18.5,221.5H32.4"/><circle cx="34.6" cy="221.5" r="2.1"/><circle cx="16.4" cy="227.5" r="2.1"/><path d="M18.5,227.5H35.7"/><path d="M21.3,219.2L34.3,213.6" stroke-dasharray="0.6 2.6"/></g>
<g class="ic"><path d="M15,265.4L21.8,255.8C23.8,253.6 29.2,254.2 29.2,259.2C29.2,263 27,265.4 24,265.4Z"/><path d="M30,250C29.2,253.2 30.8,256 33.2,255.5L39.5,249.7"/></g>
<path class="ic" d="M19.4,289.6V286.8H33.6V289.6M26.4,286.8V303.6M24,303.6H29"/>
<g class="ic"><circle cx="26.2" cy="332.8" r="10.4"/><path d="M22.9,335.6Q26.2,339.8 29.3,335.6"/><circle cx="23.4" cy="331.6" r="0.5" fill="#131722"/><circle cx="28.8" cy="331.6" r="0.5" fill="#131722"/></g>
<g class="ic"><path d="M14.4,390.3L32.7,372.1L37.9,377.3L19.6,395.5Z"/><path d="M17.7,387.0L19.6,388.9M20.6,384.1L22.5,386.0M23.5,381.2L25.4,383.1M26.5,378.3L28.4,380.2M29.4,375.4L31.3,377.3"/></g>
<g class="ic"><circle cx="24.5" cy="420.3" r="8.1"/><path d="M21,420.3H28M24.5,416.8V423.8M30.4,426.2L33.9,430"/></g>
<path class="ic" style="stroke-width:1.25" d="M18.3,481.5V471A7.75,7.75 0 0 1 33.8,471V481.5H28.6V471.2A2.6,2.6 0 0 0 23.4,471.2V481.5ZM18.3,477.5H23.4M28.6,477.5H33.8"/>
<g class="ic"><path d="M15.3,516.5L15.7,512.2L26,501.7A2.9,2.9 0 0 1 30.6,505.5L20.2,515.8Z"/><path d="M15.7,512.2L20.2,515.8M24.3,503.4L29,507.1"/><rect x="27.6" y="515.9" width="8" height="5.5" rx="1.3"/><path d="M29.3,515.9V513A2.3,2.4 0 0 1 33.9,512.9"/><path d="M31.5,518.2V519.4"/></g>
<g class="ic" style="stroke-width:1.25"><rect x="18.4" y="547.3" width="15.2" height="11.4" rx="2.4"/><path d="M22.3,547.3V544A3.55,3.6 0 0 1 29.4,543.6"/><path d="M25.9,551.8V554.3" style="stroke-width:1.7"/></g>
<g class="ic"><path d="M15.7,583.1C18.5,574 31.5,574 34.4,583.1C31.5,592.2 18.5,592.2 15.7,583.1Z"/><circle cx="24.9" cy="583.1" r="3.3"/><path d="M26.5,597.4L30.4,593.6C31.8,592.6 33.3,593.4 33,594.9C32.6,596.6 30.5,597.4 26.5,597.4Z" style="stroke-width:1"/><path d="M33,592.6C32.6,593.8 33.4,594.4 34.2,594.1L36.7,592" style="stroke-width:1"/></g>
<path class="ic" d="M17.2,631.3H34.9M22.4,631.3V629.6A1.3,1.3 0 0 1 23.7,628.4H28.5A1.3,1.3 0 0 1 29.8,629.6V631.3M19,631.3L20.6,646A1.6,1.6 0 0 0 22.2,647.4H30A1.6,1.6 0 0 0 31.6,646L33.1,631.3"/>
<path class="ic" d="M1259.7,55.7H1278.7V77.2L1269.2,73.1L1259.7,77.2ZM1263.2,60.3H1275.2M1263.2,64.4H1275.2M1263.2,68.6H1275.2"/>
<g class="ic"><circle cx="1269.1" cy="111.9" r="10.4"/><path d="M1270.2,106.4V113.2H1264.5"/><path d="M1256.6,104.2L1261.8,99.6M1276.3,99.6L1281.6,104.2"/></g>
<path class="ic" d="M1257.7,155L1268.7,148.4L1279.8,155L1268.7,161.5ZM1257.7,160.5L1268.7,167L1279.8,160.5"/>
<path class="ic" d="M1257.7,213V196A2.6,2.6 0 0 1 1260.3,193.4H1273.8A2.6,2.6 0 0 1 1276.4,196V206.4A2.6,2.6 0 0 1 1273.8,209H1262.2ZM1276.6,201H1277.8A2.6,2.6 0 0 1 1280.4,203.6V216.2L1276.4,212.6H1269.4A2.8,2.8 0 0 1 1266.6,209.8V209.2"/>
<g class="ic"><circle cx="1268.8" cy="515" r="13.4"/><circle cx="1268.8" cy="515" r="7.4"/><circle cx="1268.8" cy="515" r="1.7" fill="#131722"/><path d="M1268.8,515L1279.2,505.2"/></g>
<g class="ic"><rect x="1257.5" y="551.3" width="23.2" height="21.2" rx="3"/><path d="M1257.5,558.5H1280.7"/><rect x="1261.7" y="549.3" width="2.8" height="5" rx="1" fill="#fff"/><rect x="1273.7" y="549.3" width="2.8" height="5" rx="1" fill="#fff"/></g>
<circle cx="1269" cy="606.5" r="16.7" fill="#2a2a2a"/>
<rect x="1259.9" y="597.4" width="4.2" height="4.2" rx="0.7" fill="#fff"/>
<rect x="1259.9" y="604.4" width="4.2" height="4.2" rx="0.7" fill="#fff"/>
<rect x="1259.9" y="611.4" width="4.2" height="4.2" rx="0.7" fill="#fff"/>
<rect x="1266.9" y="597.4" width="4.2" height="4.2" rx="0.7" fill="#fff"/>
<rect x="1266.9" y="604.4" width="4.2" height="4.2" rx="0.7" fill="#fff"/>
<rect x="1266.9" y="611.4" width="4.2" height="4.2" rx="0.7" fill="#fff"/>
<rect x="1273.9" y="597.4" width="4.2" height="4.2" rx="0.7" fill="#fff"/>
<rect x="1273.9" y="604.4" width="4.2" height="4.2" rx="0.7" fill="#fff"/>
<rect x="1273.9" y="611.4" width="4.2" height="4.2" rx="0.7" fill="#fff"/>
<path d="M1252,635.5H1285" stroke="#e6e7ea" style="stroke-width:1"/>
<g class="ic"><circle cx="1259.9" cy="671.9" r="1.7"/><path d="M1259.9,664.0A7.9,7.9 0 0 1 1267.8000000000002,671.9M1259.9,658.0A13.9,13.9 0 0 1 1273.8000000000002,671.9M1259.9,652.0A19.9,19.9 0 0 1 1279.8000000000002,671.9"/></g>
<g class="ic" style="stroke-width:1.1"><path d="M1280.8,705.5A12.6,12.6 0 0 1 1261.8,720.1M1257.2,714.1A12.6,12.6 0 0 1 1276.2,699.5"/><path d="M1279.6,696.0Q1279.6,699.6 1283.1999999999998,699.6Q1279.6,699.6 1279.6,703.2Q1279.6,699.6 1276.0,699.6Q1279.6,699.6 1279.6,696.0ZM1257.3,714.9Q1257.3,717.8 1260.2,717.8Q1257.3,717.8 1257.3,720.6999999999999Q1257.3,717.8 1254.3999999999999,717.8Q1257.3,717.8 1257.3,714.9Z"/><path d="M1265.6,706.2A3.5,3.4 0 1 1 1270.6,709.6C1269.4,710.3 1269.1,711 1269.1,712.3"/><circle cx="1269.1" cy="716" r="1.3"/></g>
<path d="M1291,723.5C1290,729 1287,733 1283,734H1291Z" fill="#a01763"/>
<path d="M0,728.5C2,729 4,731 4.5,734H0Z" fill="#f3a8cf"/>
<path class="ic" style="stroke-width:1.3" d="M1178.8,717L1187.6,710.5L1196.4,717"/>
<path class="ic" style="stroke-width:1.3" d="M1215.4,712V710.2A2.8,2.8 0 0 1 1218.2,707.4H1228A2.8,2.8 0 0 1 1230.8,710.2V712M1230.8,718V719.7A2.8,2.8 0 0 1 1228,722.5H1218.2A2.8,2.8 0 0 1 1215.4,719.7V718"/>
<g class="ic"><path d="M1202.6,639.4L1206,633.2H1213.2L1216.8,639.4L1213.2,645.6H1206Z"/><circle cx="1209.7" cy="639.4" r="2.2"/></g>
<path d="M332.5,661V684" stroke="#e6e7ea" style="stroke-width:1"/>
<path class="ic" style="stroke-width:1.25" d="M347.5,671.5V668A2.6,2.6 0 0 1 350.1,665.4H361.8A2.6,2.6 0 0 1 364.4,668V677.7A2.6,2.6 0 0 1 361.8,680.3H356.3M347.5,669.3H364.4M352.4,663.3V666.8M359.5,663.3V666.8M346.2,677.3H353.6M350.4,674.2L353.7,677.3L350.4,680.7"/>
<path class="ic" style="stroke-width:1.5" d="M74.5,157.5L78.2,153.8L81.9,157.5"/>
<g fill="#16181d" stroke="#fff" stroke-width="3" paint-order="stroke" stroke-linejoin="round"><path d="M68.1,596.2H80.2V610.8H73.9V602.4H68.1Z"/><circle cx="85.1" cy="599" r="2.8"/><path d="M88.9,596.2H97.4L92.3,610.8H84.2Z"/><text x="105" y="610.8" font-size="20.3" font-weight="bold" textLength="120.5" lengthAdjust="spacingAndGlyphs">TradingView</text></g>
<g fill="none"><circle cx="1045.5" cy="587.2" r="9.7" stroke="#8540ad" fill="#fff" style="stroke-width:1.3"/><path d="M1047.7,582.4L1041.5,588H1045.3L1043,592.6L1049.2,586.8H1045.6Z" fill="#8540ad"/><circle cx="1052.5" cy="580.2" r="3.8" fill="#fff"/><circle cx="1052.5" cy="580.2" r="2.4" fill="#d63d4b"/></g>
<g><clipPath id="fc1064"><circle cx="1064.1" cy="611.6" r="8.1"/></clipPath><circle cx="1064.1" cy="611.6" r="10.6" fill="#fff"/><g clip-path="url(#fc1064)"><rect x="1056.0" y="603.5" width="16.2" height="16.2" fill="#fff"/><rect x="1056.0" y="606.3" width="16.2" height="2.4" fill="#e0574f"/><rect x="1056.0" y="611.0" width="16.2" height="2.6" fill="#e0574f"/><rect x="1056.0" y="616.5" width="16.2" height="3.5" fill="#e0574f"/><rect x="1056.0" y="603.5" width="9.5" height="10.399999999999999" fill="#3f8fe3"/><rect x="1058.2" y="603.5" width="0.7" height="10.399999999999999" fill="#a9d0f5"/><rect x="1056.0" y="606.1" width="9.5" height="0.7" fill="#a9d0f5"/><rect x="1060.7" y="603.5" width="0.7" height="10.399999999999999" fill="#a9d0f5"/><rect x="1056.0" y="608.6" width="9.5" height="0.7" fill="#a9d0f5"/><rect x="1063.2" y="603.5" width="0.7" height="10.399999999999999" fill="#a9d0f5"/><rect x="1056.0" y="611.1" width="9.5" height="0.7" fill="#a9d0f5"/></g><circle cx="1064.1" cy="611.6" r="9.9" fill="none" stroke="#d14a4a" style="stroke-width:1.3"/></g>
<g><clipPath id="fc1050"><circle cx="1050.2" cy="611.6" r="8.1"/></clipPath><circle cx="1050.2" cy="611.6" r="10.6" fill="#fff"/><g clip-path="url(#fc1050)"><rect x="1042.1000000000001" y="603.5" width="16.2" height="16.2" fill="#fff"/><rect x="1042.1000000000001" y="606.3" width="16.2" height="2.4" fill="#e0574f"/><rect x="1042.1000000000001" y="611.0" width="16.2" height="2.6" fill="#e0574f"/><rect x="1042.1000000000001" y="616.5" width="16.2" height="3.5" fill="#e0574f"/><rect x="1042.1000000000001" y="603.5" width="9.5" height="10.399999999999999" fill="#3f8fe3"/><rect x="1044.3" y="603.5" width="0.7" height="10.399999999999999" fill="#a9d0f5"/><rect x="1042.1000000000001" y="606.1" width="9.5" height="0.7" fill="#a9d0f5"/><rect x="1046.8" y="603.5" width="0.7" height="10.399999999999999" fill="#a9d0f5"/><rect x="1042.1000000000001" y="608.6" width="9.5" height="0.7" fill="#a9d0f5"/><rect x="1049.3" y="603.5" width="0.7" height="10.399999999999999" fill="#a9d0f5"/><rect x="1042.1000000000001" y="611.1" width="9.5" height="0.7" fill="#a9d0f5"/></g><circle cx="1050.2" cy="611.6" r="9.9" fill="none" stroke="#d14a4a" style="stroke-width:1.3"/></g>
<g><clipPath id="fc1044"><circle cx="1044.6" cy="611.6" r="8.1"/></clipPath><circle cx="1044.6" cy="611.6" r="10.6" fill="#fff"/><g clip-path="url(#fc1044)"><rect x="1036.5" y="603.5" width="16.2" height="16.2" fill="#fff"/><rect x="1036.5" y="606.3" width="16.2" height="2.4" fill="#e0574f"/><rect x="1036.5" y="611.0" width="16.2" height="2.6" fill="#e0574f"/><rect x="1036.5" y="616.5" width="16.2" height="3.5" fill="#e0574f"/><rect x="1036.5" y="603.5" width="9.5" height="10.399999999999999" fill="#3f8fe3"/><rect x="1038.7" y="603.5" width="0.7" height="10.399999999999999" fill="#a9d0f5"/><rect x="1036.5" y="606.1" width="9.5" height="0.7" fill="#a9d0f5"/><rect x="1041.2" y="603.5" width="0.7" height="10.399999999999999" fill="#a9d0f5"/><rect x="1036.5" y="608.6" width="9.5" height="0.7" fill="#a9d0f5"/><rect x="1043.7" y="603.5" width="0.7" height="10.399999999999999" fill="#a9d0f5"/><rect x="1036.5" y="611.1" width="9.5" height="0.7" fill="#a9d0f5"/></g><circle cx="1044.6" cy="611.6" r="9.9" fill="none" stroke="#d14a4a" style="stroke-width:1.3"/></g>
</svg>
</body>
</html>
